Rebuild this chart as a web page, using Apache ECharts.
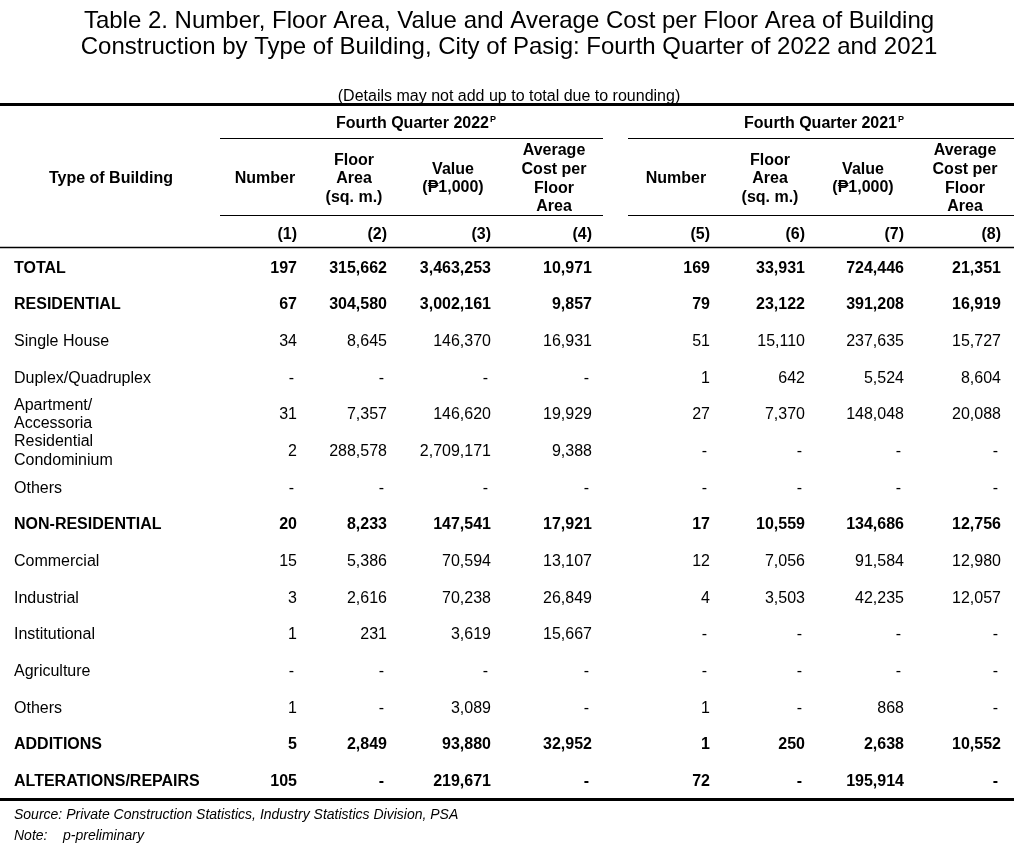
<!DOCTYPE html>
<html><head><meta charset="utf-8">
<script src="https://cdn.jsdelivr.net/npm/echarts@6/dist/echarts.min.js"></script>
<style>html,body{margin:0;padding:0;background:#fff}#c{width:1018px;height:850px}</style>
</head><body><div id="c"></div>
<script>
// ---- data ----
const categories = ['TOTAL','RESIDENTIAL','Single House','Duplex/Quadruplex','Apartment/\nAccessoria','Residential\nCondominium','Others','NON-RESIDENTIAL','Commercial','Industrial','Institutional','Agriculture','Others','ADDITIONS','ALTERATIONS/REPAIRS'];
const boldRows = [0,1,7,13,14];
const number2022 = [197,67,34,null,31,2,null,20,15,3,1,null,1,5,105];
const floor2022 = [315662,304580,8645,null,7357,288578,null,8233,5386,2616,231,null,null,2849,null];
const value2022 = [3463253,3002161,146370,null,146620,2709171,null,147541,70594,70238,3619,null,3089,93880,219671];
const avg2022 = [10971,9857,16931,null,19929,9388,null,17921,13107,26849,15667,null,null,32952,null];
const number2021 = [169,79,51,1,27,null,null,17,12,4,null,null,1,1,72];
const floor2021 = [33931,23122,15110,642,7370,null,null,10559,7056,3503,null,null,null,250,null];
const value2021 = [724446,391208,237635,5524,148048,null,null,134686,91584,42235,null,null,868,2638,195914];
const avg2021 = [21351,16919,15727,8604,20088,null,null,12756,12980,12057,null,null,null,10552,null];
const columnNumbers = ['(1)','(2)','(3)','(4)','(5)','(6)','(7)','(8)'];
const columnHeaders = ['Number','Floor\nArea\n(sq. m.)','Value\n(\u20B11,000)','Average\nCost per\nFloor\nArea'];
const periods = ['Fourth Quarter 2022','Fourth Quarter 2021'];

// ---- layout ----
const colRight = [297,387,491,592,710,805,904,1001];
const labelX = 14;
const FONT = 'Arial, "Liberation Sans", sans-serif';
const series = [number2022,floor2022,value2022,avg2022,number2021,floor2021,value2021,avg2021];

const cellData = [], cellText = [], cellAlign = [], cellBold = [];
categories.forEach((c, i) => {
  const b = boldRows.indexOf(i) >= 0;
  cellData.push([labelX, i]); cellText.push(c); cellAlign.push('left'); cellBold.push(b);
  series.forEach((s, j) => {
    const v = s[i];
    const isDash = v === null;
    cellData.push([colRight[j] - (isDash ? 3 : 0), i]);
    cellText.push(isDash ? '-' : v.toLocaleString('en-US'));
    cellAlign.push('right'); cellBold.push(b);
  });
});

const graphics = [];
function txt(x, y, t, o) {
  o = o || {};
  graphics.push({type:'text', x:x, y:y, silent:true, style:{text:t, fill:'#000',
    font:(o.italic?'italic ':'') + (o.bold?'bold ':'') + (o.size||16) + 'px ' + FONT,
    textAlign:o.align||'center', textVerticalAlign:'middle', lineHeight:o.lh||19}});
}
function line(x1, y1, x2, y2, w) {
  graphics.push({type:'line', silent:true, shape:{x1:x1,y1:y1,x2:x2,y2:y2}, style:{stroke:'#000', lineWidth:w}});
}
txt(509, 21, 'Table 2. Number, Floor Area, Value and Average Cost per Floor Area of Building', {size:24});
txt(509, 47, 'Construction by Type of Building, City of Pasig: Fourth Quarter of 2022 and 2021', {size:24});
txt(509, 97, '(Details may not add up to total due to rounding)', {size:16});
line(0, 104.5, 1014, 104.5, 3);
// period headers
txt(489, 124, periods[0], {bold:true, align:'right'});
txt(490, 120, 'P', {bold:true, align:'left', size:9});
txt(897, 124, periods[1], {bold:true, align:'right'});
txt(898, 120, 'P', {bold:true, align:'left', size:9});
line(220, 138.5, 603, 138.5, 1);
line(628, 138.5, 1014, 138.5, 1);
txt(111, 179, 'Type of Building', {bold:true});
const hdrCenters = [265,354,453,554,676,770,863,965];
const hdrY = [179, 179, 178.5, 179];
hdrCenters.forEach((cx, k) => {
  txt(cx, hdrY[k%4], columnHeaders[k%4], {bold:true, lh:18.7});
});
line(220, 215.5, 603, 215.5, 1);
line(628, 215.5, 1014, 215.5, 1);
columnNumbers.forEach((t, k) => txt(colRight[k], 234.5, t, {bold:true, align:'right'}));
line(0, 247.5, 1014, 247.5, 1.5);
line(0, 799.5, 1014, 799.5, 3);
txt(14, 815, 'Source: Private Construction Statistics, Industry Statistics Division, PSA', {italic:true, size:14, align:'left'});
txt(14, 836, 'Note:', {italic:true, size:14, align:'left'});
txt(63, 836, 'p-preliminary', {italic:true, size:14, align:'left'});

const chart = echarts.init(document.getElementById('c'));
chart.setOption({
  animation:false,
  backgroundColor:'#fff',
  grid:{left:0, top:250, width:1018, height:550},
  xAxis:{type:'value', min:0, max:1018, show:false},
  yAxis:{type:'value', min:-0.5, max:14.5, inverse:true, show:false},
  graphic:{elements:graphics},
  series:[{
    type:'custom',
    coordinateSystem:'cartesian2d',
    data:cellData,
    renderItem:function(params, api){
      const p = api.coord([api.value(0), api.value(1)]);
      const i = params.dataIndex;
      const multi = cellText[i].indexOf('\n') >= 0;
      return {type:'text', x:p[0], y:p[1] - (multi ? 0.5 : 0), style:{
        text:cellText[i], fill:'#000',
        font:(cellBold[i]?'bold ':'') + '16px ' + FONT,
        textAlign:cellAlign[i], textVerticalAlign:'middle', lineHeight:18.5}};
    }
  }]
});
</script></body></html>
